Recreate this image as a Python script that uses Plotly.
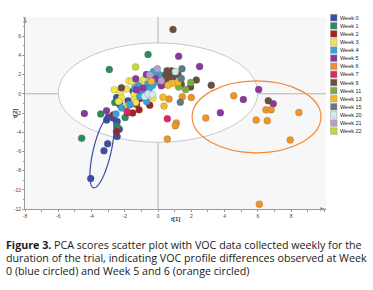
import numpy as np
import plotly.graph_objects as go

weeks = ["Week 0", "Week 1", "Week 2", "Week 3", "Week 4", "Week 5", "Week 6", "Week 7",
         "Week 9", "Week 11", "Week 13", "Week 15", "Week 20", "Week 21", "Week 22"]
colors = ["#3b4ea3", "#2e8c5c", "#a51f1f", "#f2e54b", "#37a3dc", "#8a3a9c", "#f1922a", "#df2562",
          "#6b4e3f", "#7bad45", "#f6b824", "#5f7a8a", "#cfeaf1", "#b89ccc", "#c4d83f"]

w0_t1 = [-2.49, -1.80, -2.29, -1.20, -3.09, -2.69, -2.46, -3.00, -2.33, -2.46, -3.03, -3.25, -4.05, -1.50]
w0_t2 = [-0.38, -0.73, -1.15, -0.03, -2.74, -2.53, -2.88, -2.43, -3.68, -4.44, -5.20, -5.94, -8.82, 0.30]
w1_t1 = [-2.93, -0.60, -3.45, -1.98, -2.46, -4.59, -2.60]
w1_t2 = [2.53, 4.10, -2.10, -2.47, -3.40, -4.62, -0.90]
w2_t1 = [-1.10, -1.30, -1.83, -1.53, -1.14, -0.50, -1.34, -2.50, -2.69, -1.00]
w2_t2 = [-0.50, -1.10, -1.95, -2.00, -1.67, -1.20, -0.97, -3.93, -2.20, -0.10]
w3_t1 = [-1.74, -1.60, -0.86, -1.14, -2.63, -2.25, -2.20, -2.37, -1.44, -1.40, -0.30, -2.00, -1.35, -1.74, -0.60, -1.90]
w3_t2 = [1.35, 1.28, 1.50, 1.07, 0.42, 0.18, -0.45, -0.80, -0.10, -0.60, -0.45, -1.32, -0.90, -1.15, 1.20, 0.50]
w4_t1 = [-0.28, 0.10, -0.06, -0.40, -0.60, -0.34, -0.80, -0.54, -0.90, -1.10, -0.14, -1.40, -1.20, -0.69, -2.19, -2.53, -1.69]
w4_t2 = [2.32, 1.98, 1.70, 1.46, 1.01, 0.86, 0.59, 0.42, 0.18, -0.28, 1.22, 0.59, 0.86, -0.80, -1.49, -2.11, -1.15]
w5_t1 = [1.24, -0.70, -1.34, -0.14, 0.20, 0.40, -1.30, -3.10, -4.43, -0.90, 2.50, 6.05, 5.13, 6.93, 3.75]
w5_t2 = [3.90, 2.00, 1.56, 1.56, 0.83, 1.00, 0.42, -1.77, -2.05, 0.60, 2.84, 0.45, -0.59, -1.04, -1.98]
w6_t1 = [0.66, 1.46, 2.00, 1.10, 1.04, 0.56, 4.55, 6.49, 6.80, 8.47, 2.87, 5.90, 6.57, 7.95, 6.09]
w6_t2 = [-0.55, -0.31, -0.38, -3.05, -3.33, -4.72, -0.21, -1.67, -1.67, -1.94, -2.53, -2.74, -2.81, -4.80, -11.50]
w7_t1 = [0.56, -1.86]
w7_t2 = [-2.60, -1.84]
w9_t1 = [0.90, 0.54, 0.80, 1.00, 0.46, 0.70, 0.90, 0.50, 1.40, 2.30, 1.96, 3.20, 6.63, -2.20, 1.20]
w9_t2 = [6.70, 2.40, 2.40, 2.26, 1.98, 1.80, 1.70, 1.56, 1.00, 1.43, 0.70, 0.90, -0.73, 0.62, 2.00]
w11_t1 = [1.24, 1.66, 1.96]
w11_t2 = [0.70, 0.45, 1.18]
w13_t1 = [0.90, 1.20, 0.30, 0.36, 0.60, -0.40]
w13_t2 = [1.10, 1.20, -0.35, -1.28, 0.90, 1.30]
w15_t1 = [1.44, 1.34, 1.40]
w15_t2 = [2.60, -0.87, 1.60]
w20_t1 = [1.04, -0.80, -0.60, -0.34]
w20_t2 = [2.30, -0.28, 0.00, -0.07]
w21_t1 = [-0.04, -0.50, 0.20]
w21_t2 = [2.60, 1.98, 1.35]
w22_t1 = [-1.35]
w22_t2 = [2.80]

series_t1 = [w0_t1, w1_t1, w2_t1, w3_t1, w4_t1, w5_t1, w6_t1, w7_t1, w9_t1, w11_t1, w13_t1, w15_t1, w20_t1, w21_t1, w22_t1]
series_t2 = [w0_t2, w1_t2, w2_t2, w3_t2, w4_t2, w5_t2, w6_t2, w7_t2, w9_t2, w11_t2, w13_t2, w15_t2, w20_t2, w21_t2, w22_t2]

x_ticks = [-8, -6, -4, -2, 0, 2, 4, 6, 8]
y_ticks = [-12, -10, -8, -6, -4, -2, 0, 2, 4, 6]

W, H = 373, 290
L, R, T, B = 25, 47, 17, 81
pw, ph = W - L - R, H - T - B


def px(xp):
    return (xp - L) / pw


def py(yp):
    return (H - B - yp) / ph


fig = go.Figure()

# Hotelling ellipse (white inside)
fig.add_shape(type="circle", xref="x", yref="y", x0=-6.0, x1=6.0, y0=-5.05, y1=5.3,
              fillcolor="white", line=dict(color="#c8c8c8", width=1), layer="below")
# zero lines
fig.add_shape(type="line", xref="x", yref="paper", x0=0, x1=0, y0=0, y1=1,
              line=dict(color="#b4b4b4", width=1), layer="below")
fig.add_shape(type="line", xref="paper", yref="y", x0=0, x1=1, y0=0, y1=0,
              line=dict(color="#b4b4b4", width=1), layer="below")

for name, col, xs, ys in zip(weeks, colors, series_t1, series_t2):
    fig.add_trace(go.Scatter(x=xs, y=ys, mode="markers", name=name, showlegend=False,
                             marker=dict(size=7, color=col,
                                         line=dict(color="rgba(90,90,90,0.45)", width=0.5))))

# blue rotated ellipse (Week 0)
t = np.linspace(0, 2 * np.pi, 80)
cx, cy = -3.37, -6.04
ax_, ay_ = 0.51, 3.75
bx_, by_ = 0.52, -0.22
ex = cx + ax_ * np.cos(t) + bx_ * np.sin(t)
ey = cy + ay_ * np.cos(t) + by_ * np.sin(t)
path = "M " + " L ".join(f"{a:.3f},{b:.3f}" for a, b in zip(ex, ey)) + " Z"
fig.add_shape(type="path", xref="x", yref="y", path=path, line=dict(color="#3b4ea3", width=1.2))

# orange ellipse (Week 5 and 6)
fig.add_shape(type="circle", xref="x", yref="y", x0=2.05, x1=9.8, y0=-6.15, y1=1.35,
              line=dict(color="#f08a3a", width=1.2))

# axis arrows
fig.add_shape(type="path", xref="paper", yref="paper",
              path=f"M {px(320)},{py(207.2)} L {px(327)},{py(209)} L {px(320)},{py(210.8)} Z",
              fillcolor="#9a9a9a", line=dict(width=0))
fig.add_shape(type="path", xref="paper", yref="paper",
              path=f"M {px(23.2)},{py(23)} L {px(25)},{py(16)} L {px(26.8)},{py(23)} Z",
              fillcolor="#9a9a9a", line=dict(width=0))

# manual legend
for i, (name, col) in enumerate(zip(weeks, colors)):
    yc = 17.7 + i * 8.1
    fig.add_shape(type="rect", xref="paper", yref="paper",
                  x0=px(330.5), x1=px(337), y0=py(yc - 3.3), y1=py(yc + 3.3),
                  fillcolor=col, line=dict(color="#888", width=0.4))
    fig.add_annotation(x=px(337.5), y=py(yc), xref="paper", yref="paper", text=name,
                       showarrow=False, xanchor="left", yanchor="middle",
                       font=dict(family="Liberation Sans", size=5.5, color="#222"))

# axis titles
fig.add_annotation(x=px(175), y=py(223.5), xref="paper", yref="paper", text="<b>t[1]</b>",
                   showarrow=False, font=dict(family="Liberation Sans", size=6, color="#333"))
fig.add_annotation(x=px(10), y=py(114), xref="paper", yref="paper", text="<b>t[2]</b>",
                   showarrow=False, textangle=-90, font=dict(family="Liberation Sans", size=6, color="#333"))

# caption
cap = ["<b>Figure 3.</b> PCA scores scatter plot with VOC data collected weekly for the",
       "duration of the trial, indicating VOC profile differences observed at Week",
       "0 (blue circled) and Week 5 and 6 (orange circled)"]
for i, line in enumerate(cap):
    fig.add_annotation(x=px(3.5), y=py(245.3 + i * 13), xref="paper", yref="paper", text=line,
                       showarrow=False, xanchor="left", yanchor="middle",
                       font=dict(family="Open Sans", size=10.7, color="#1a1a1a"))

fig.update_layout(
    width=W, height=H, margin=dict(l=L, r=R, t=T, b=B),
    paper_bgcolor="white", plot_bgcolor="#f7f7f7", showlegend=False,
    font=dict(family="Liberation Sans", size=5, color="#444"),
    xaxis=dict(range=[-8, 10.1], tickvals=x_ticks, ticktext=[str(v) for v in x_ticks],
               showgrid=False, zeroline=False, showline=True, linecolor="#9a9a9a", linewidth=1,
               ticks="outside", ticklen=2, tickcolor="#9a9a9a", tickfont=dict(size=5),
               minor=dict(dtick=1, ticks="outside", ticklen=1.5, tickcolor="#9a9a9a")),
    yaxis=dict(range=[-12, 8], tickvals=y_ticks, ticktext=[str(v) for v in y_ticks],
               showgrid=False, zeroline=False, showline=True, linecolor="#9a9a9a", linewidth=1,
               ticks="outside", ticklen=2, tickcolor="#9a9a9a", tickfont=dict(size=5),
               minor=dict(dtick=1, ticks="outside", ticklen=1.5, tickcolor="#9a9a9a")),
)

fig.write_html("out.html", config={"displayModeBar": False},
               post_script="document.body.style.margin='0';document.body.style.overflow='hidden';")
